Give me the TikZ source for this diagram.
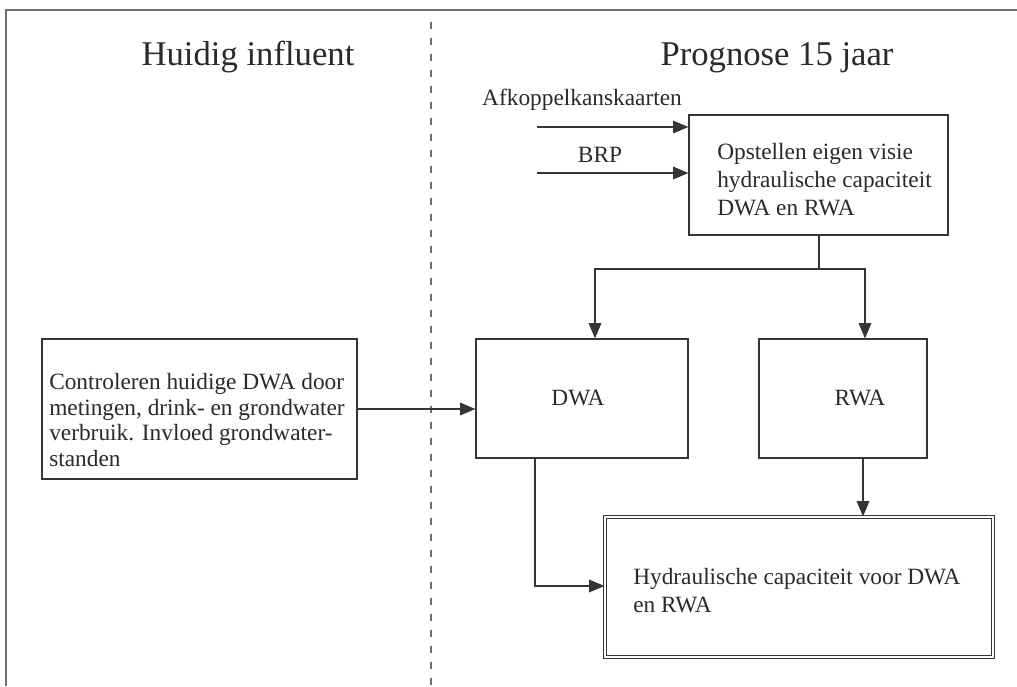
\documentclass[tikz,border=0pt]{standalone}
\usepackage{fontspec}
\setmainfont{Liberation Serif}
\usetikzlibrary{arrows.meta}
\definecolor{ink}{HTML}{353535}
\definecolor{txt}{HTML}{2A2A2A}
\definecolor{rule}{HTML}{707070}
\begin{document}
\begin{tikzpicture}[x=0.75pt,y=-0.75pt,
  frame/.style n args={2}{draw=ink, line width=0.9pt, rectangle, inner sep=0pt,
    minimum width=#1*0.75pt, minimum height=#2*0.75pt, text=txt,
    font=\fontsize{17.5}{21}\selectfont},
  body/.style={text=txt, inner sep=0pt, anchor=west, align=left,
    font=\fontsize{17.5}{21}\selectfont},
  title/.style={text=txt, inner sep=0pt, anchor=base,
    font=\fontsize{26}{30}\selectfont},
  link/.style={draw=ink, line width=0.9pt},
  flow/.style={link, -{Triangle[length=11.5pt,width=9.5pt]}}]

\useasboundingbox (0,0) rectangle (1017,686);
\fill[white] (0,0) rectangle (1017,686);

% page frame and column divider
\draw[rule, line width=1.1pt] (6,686) -- (6,10) -- (1017,10);
\draw[rule, line width=1.2pt, dash pattern=on 5.5pt off 6.5pt] (431,22) -- (431,686);

% column headings
\node[title] (h1) at (248,65) {Huidig influent};
\node[title] (h2) at (777,65) {Prognose 15 jaar};

% boxes
\node[frame={315}{140}] (L) at (199.5,409) {};
\node[body] (Lt) at (49,420) {Controleren huidige DWA door\\[-1.8pt]metingen, drink- en grondwater\\[-1.8pt]verbruik. Invloed grondwater-\\[-1.8pt]standen};

\node[frame={259}{120}] (O) at (818.5,175) {};
\node[body] (Ot) at (717,180) {Opstellen eigen visie\\hydraulische capaciteit\\DWA en RWA};

\node[frame={212}{119}] (D) at (582,398.5) {};
\node[body, anchor=center] (Dt) at (578,398) {DWA};

\node[frame={168}{119}] (R) at (843,398.5) {};
\node[body, anchor=center] (Rt) at (860,398) {RWA};

\node[frame={388}{140}, double=white, double distance=2pt, line width=0.85pt] (H) at (799,587) {};
\node[body] (Ht) at (633,591) {Hydraulische capaciteit voor DWA\\en RWA};

% inputs to the vision box
\node[body, anchor=center] (in1) at (582,100) {Afkoppelkanskaarten};
\node[body, anchor=center] (in2) at (600,155) {BRP};
\coordinate (s1) at (537,127);
\coordinate (s2) at (537,173);
\draw[flow] (s1) -- (s1 -| O.west);
\draw[flow] (s2) -- (s2 -| O.west);

% split towards DWA and RWA
\coordinate (top) at (819,269);
\coordinate (dl) at (595,269);
\coordinate (rr) at (865,269);
\draw[link] (O.south -| top) -- (top);
\draw[flow] (top) -- (dl) -- (dl |- D.north);
\draw[flow] (top) -- (rr) -- (rr |- R.north);

% current influent into DWA
\draw[flow] (L.east) -- (L.east -| D.west);

% DWA and RWA into hydraulic capacity
\coordinate (dd) at (535,586);
\draw[flow] (dd |- D.south) -- (dd) -- (dd -| H.west);
\coordinate (rd) at (863,517);
\draw[flow] (rd |- R.south) -- (H.north -| rd);

\end{tikzpicture}
\end{document}
